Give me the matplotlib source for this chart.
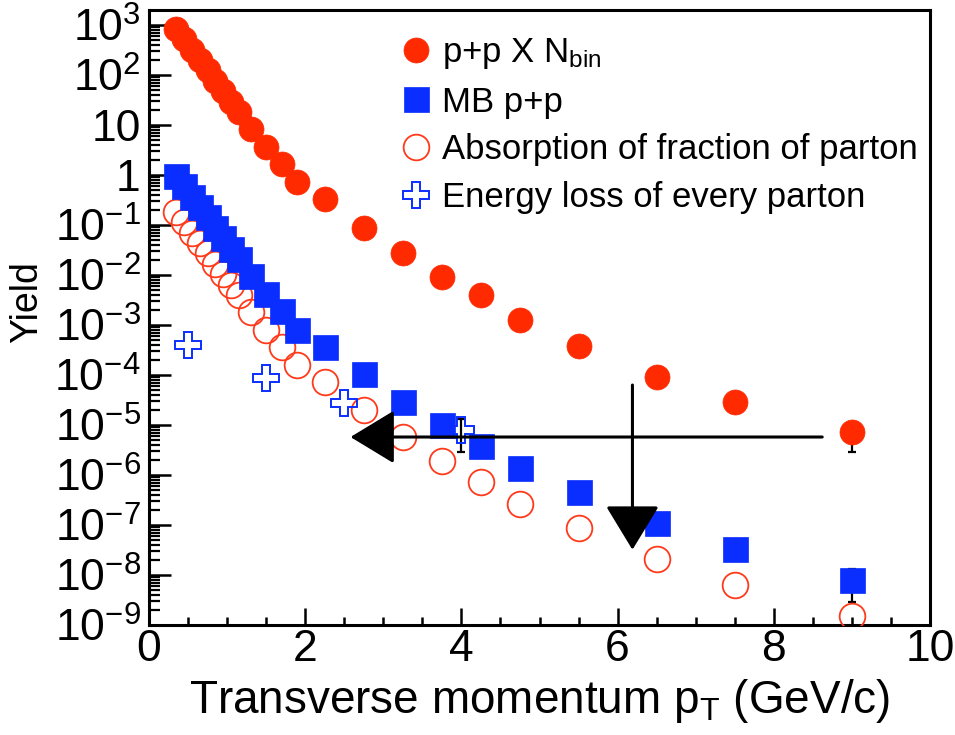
import numpy as np
import matplotlib
matplotlib.use('Agg')
import matplotlib.pyplot as plt
from matplotlib.ticker import FixedLocator, LogLocator, NullFormatter, FixedFormatter, MultipleLocator

plt.rcParams['font.family'] = ['Liberation Sans', 'DejaVu Sans']
plt.rcParams['mathtext.fontset'] = 'custom'
plt.rcParams['mathtext.rm'] = 'Liberation Sans'
plt.rcParams['mathtext.it'] = 'Liberation Sans:italic'
plt.rcParams['mathtext.bf'] = 'Liberation Sans:bold'

# ---------------- data ----------------
pt = [0.35, 0.45, 0.55, 0.65, 0.75, 0.85, 0.95, 1.05, 1.15, 1.3, 1.5, 1.7, 1.9,
      2.25, 2.75, 3.25, 3.75, 4.25, 4.75, 5.5, 6.5, 7.5, 9.0]
pp_nbin = [830, 525, 316, 200, 126, 76, 48, 29, 18.2, 8.3, 3.6, 1.66, 0.72,
           0.33, 0.087, 0.0275, 9.1e-3, 4.0e-3, 1.26e-3, 3.8e-4, 9.1e-5, 2.9e-5, 7.2e-6]
mb_pp = [0.955, 0.60, 0.36, 0.23, 0.145, 0.087, 0.055, 0.033, 0.021, 9.5e-3, 4.2e-3, 1.9e-3, 7.9e-4,
         3.6e-4, 1.05e-4, 2.9e-5, 1.0e-5, 3.8e-6, 1.38e-6, 4.6e-7, 1.1e-7, 3.3e-8, 7.9e-9]
absorption = [0.182, 0.115, 0.069, 0.0437, 0.0275, 0.0166, 0.0105, 6.3e-3, 4.0e-3, 1.82e-3, 7.9e-4, 3.6e-4, 1.58e-4,
              7.2e-5, 2.0e-5, 5.75e-6, 1.9e-6, 7.2e-7, 2.6e-7, 8.7e-8, 2.1e-8, 6.3e-9, 1.5e-9]
eloss_pt = [0.5, 1.5, 2.5, 4.0]
eloss = [4.0e-4, 8.7e-5, 2.75e-5, 7.9e-6]

# visible error bars (only on a few points)
pp_nbin_err_pt = [9.0]
pp_nbin_err_val = [7.2e-6]
pp_nbin_err = [4.3e-6]
mb_err_pt = [9.0]
mb_err_val = [7.9e-9]
mb_err = [5.0e-9]
eloss_err_pt = [4.0]
eloss_err_val = [7.9e-6]
eloss_err = [5.0e-6]

# annotation arrows
harrow_from = (8.62, 5.75e-6)
harrow_to = (2.58, 5.75e-6)
varrow_from = (6.19, 6.3e-5)
varrow_to = (6.19, 3.2e-8)

xtick_vals = [0, 2, 4, 6, 8, 10]
xtick_labels = ['0', '2', '4', '6', '8', '10']
ytick_vals = [1e-9, 1e-8, 1e-7, 1e-6, 1e-5, 1e-4, 1e-3, 1e-2, 1e-1, 1, 10, 1e2, 1e3]
ytick_labels = [r'$10^{-9}$', r'$10^{-8}$', r'$10^{-7}$', r'$10^{-6}$', r'$10^{-5}$', r'$10^{-4}$',
                r'$10^{-3}$', r'$10^{-2}$', r'$10^{-1}$', '1', '10', r'$10^{2}$', r'$10^{3}$']

legend_labels = [r'p+p X N$_{\mathrm{bin}}$', 'MB p+p', 'Absorption of fraction of parton',
                 'Energy loss of every parton']

RED = '#ff2a00'
RED_OPEN = '#ff3a1a'
BLUE = '#0a2eff'

# ---------------- figure ----------------
W, H = 955, 735
fig = plt.figure(figsize=(W / 100, H / 100), dpi=100)
ax = fig.add_axes([149 / W, 1 - 625 / H, (930 - 149) / W, (625 - 10) / H])
ax.set_yscale('log')
ax.set_xlim(0, 10)
ax.set_ylim(1e-9, 10 ** 3.3)

# error bars (behind markers)
for ex, ey, ee in [(pp_nbin_err_pt, pp_nbin_err_val, pp_nbin_err),
                   (mb_err_pt, mb_err_val, mb_err),
                   (eloss_err_pt, eloss_err_val, eloss_err)]:
    ax.errorbar(ex, ey, yerr=ee, fmt='none', ecolor='black',
                elinewidth=1.6, capsize=3, capthick=1.6, zorder=2)

h1, = ax.plot(pt, pp_nbin, 'o', ms=18, mfc=RED, mec=RED, mew=0.5, ls='none', zorder=3)
h3, = ax.plot(pt, absorption, 'o', ms=18.5, mfc='none', mec=RED_OPEN, mew=1.3, ls='none', zorder=3)
h2, = ax.plot(pt, mb_pp, 's', ms=18, mfc=BLUE, mec=BLUE, mew=0.5, ls='none', zorder=4)
h4, = ax.plot(eloss_pt, eloss, 'P', ms=19, mfc='none', mec=BLUE, mew=1.4, ls='none', zorder=5)

arrow_kw = dict(arrowstyle='-|>,head_length=1.4,head_width=0.85', lw=2.2, color='black',
                shrinkA=0, shrinkB=0, mutation_scale=20)
ax.annotate('', xy=harrow_to, xytext=harrow_from, arrowprops=arrow_kw, zorder=6)
ax.annotate('', xy=varrow_to, xytext=varrow_from, arrowprops=arrow_kw, zorder=6)

# axes styling
for s in ax.spines.values():
    s.set_linewidth(2.2)
ax.xaxis.set_major_locator(FixedLocator(xtick_vals))
ax.xaxis.set_major_formatter(FixedFormatter(xtick_labels))
ax.xaxis.set_minor_locator(MultipleLocator(0.5))
ax.yaxis.set_major_locator(FixedLocator(ytick_vals))
ax.yaxis.set_major_formatter(FixedFormatter(ytick_labels))
ax.yaxis.set_minor_locator(LogLocator(base=10, subs=np.arange(2, 10), numticks=100))
ax.yaxis.set_minor_formatter(NullFormatter())

ax.tick_params(axis='both', which='both', direction='in', top=False, right=False, labelsize=32)
ax.tick_params(axis='x', which='major', length=12, width=1.8, pad=3)
ax.tick_params(axis='x', which='minor', length=6, width=1.8)
ax.tick_params(axis='y', which='major', length=16, width=1.8, pad=6)
ax.tick_params(axis='y', which='minor', length=8, width=1.6)

fig.text(540 / W, 1 - 713 / H, r'Transverse momentum p$_{\mathrm{T}}$ (GeV/c)', fontsize=33,
         ha='center', va='baseline')
fig.text(27 / W, 1 - 302 / H, 'Yield', fontsize=27, rotation=90, ha='center', va='center')

ax.legend([h1, h2, h3, h4], legend_labels, loc='upper left',
          bbox_to_anchor=(399 / W, 1 - 36 / H), bbox_transform=fig.transFigure,
          frameon=False, fontsize=25, handlelength=1.0, handletextpad=0.25,
          labelspacing=0.42, borderpad=0, borderaxespad=0, numpoints=1)

fig.savefig('out.png', dpi=100)
